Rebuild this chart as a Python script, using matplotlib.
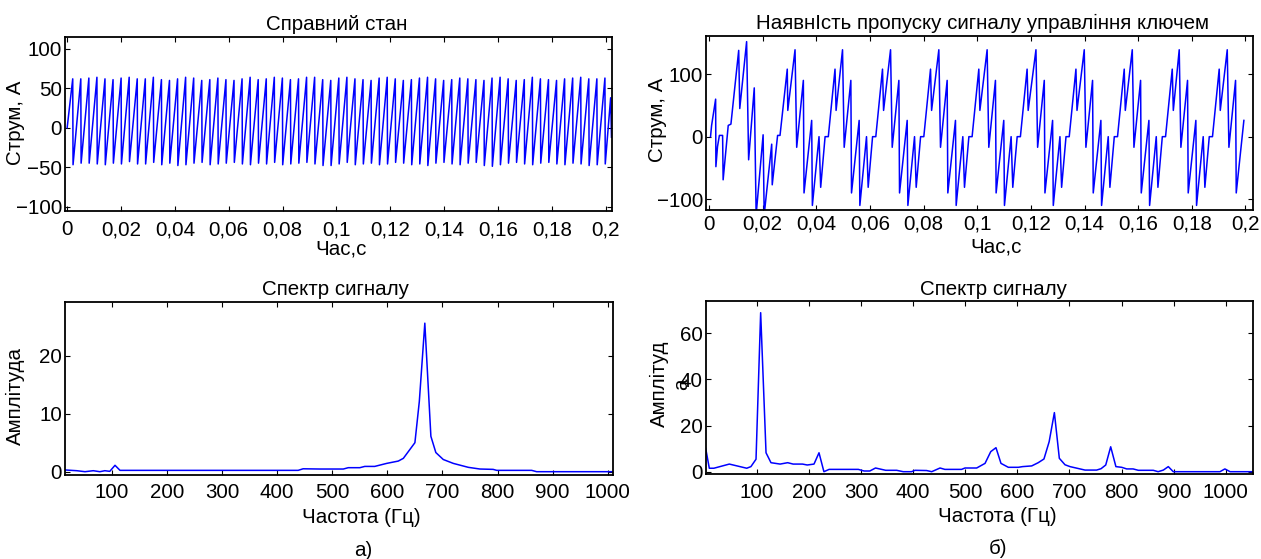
import numpy as np
import matplotlib
matplotlib.use("Agg")
import matplotlib.pyplot as plt

plt.rcParams['font.family'] = ['Liberation Sans', 'DejaVu Sans']

# ---------------- data ----------------
# healthy state: rising sawtooth, one peak/trough pair per cycle
healthy_first_peak = 0.00207   # s
healthy_period = 0.002994      # s
healthy_peaks = [62, 62, 63, 64, 62, 61, 63, 64, 62, 62,
                 64, 61, 60, 62, 64, 63, 60, 61, 63, 61,
                 60, 62, 64, 61, 62, 64, 63, 61, 62, 64,
                 64, 61, 60, 63, 64, 62, 61, 60, 63, 64,
                 62, 60, 61, 63, 64, 62, 60, 61, 63, 62,
                 61, 60, 63, 64, 62, 60, 61, 64, 62, 61,
                 60, 62, 63, 64, 62, 62, 63]
healthy_troughs = [-47, -45, -45, -46, -47, -45, -46, -43, -46, -46,
                   -44, -47, -45, -48, -47, -45, -44, -47, -46, -45,
                   -44, -46, -47, -45, -46, -44, -47, -46, -45, -44,
                   -46, -48, -48, -46, -44, -47, -46, -45, -47, -46,
                   -44, -45, -47, -46, -48, -45, -44, -46, -47, -45,
                   -44, -48, -49, -47, -45, -44, -46, -47, -45, -44,
                   -46, -47, -45, -46, -48, -47, -46]
healthy_tail_t = [0.2018, 0.2021]
healthy_tail_v = [38, -12]

# fault state: start-up transient, then a repeating cycle
fault_head_t = [0.0006, 0.0010, 0.0025, 0.0026, 0.0032, 0.0039, 0.0051, 0.0053,
                0.0072, 0.0082, 0.0111, 0.0115, 0.01405, 0.0148, 0.0169, 0.0176,
                0.0202, 0.0206, 0.0234, 0.0236, 0.0256, 0.0265, 0.0292, 0.0294]
fault_head_v = [0, 18, 60, -48, -16, 2, 2, -69,
                18, 20, 138, 45, 152, -37, 78, -125,
                3, -125, -12, -77, 2, 2, 108, 42]
fault_peak_t = [0.0321, 0.0498, 0.0677, 0.0857, 0.1037, 0.1219,
                0.1399, 0.1578, 0.1753, 0.1932]
fault_cycle_dt = [0.0, 0.00062, 0.0031, 0.00335, 0.0062, 0.00646,
                  0.00894, 0.00956, 0.0112, 0.0124, 0.0149, 0.0153]
fault_cycle_v = [139, -17, 90, -90, 26, -110, 0, -81, 0, 0, 108, 42]
fault_end_t = 0.1995

# spectra
spec_a_f = [14.7, 36, 51, 66, 78, 87, 96, 105.5, 114.6, 438, 447, 477.5, 520, 529,
            550, 559, 577, 598.7, 619.8, 629, 650, 658, 668, 679, 688, 701.5,
            719.7, 747, 768, 792, 798.5, 862, 871, 1010]
spec_a_v = [0.3, 0.17, 0.0, 0.17, 0.0, 0.17, 0.06, 1.1, 0.23, 0.23, 0.5, 0.46, 0.46, 0.69,
            0.69, 0.91, 0.91, 1.43, 1.83, 2.3, 5.0, 12.1, 25.6, 6.1, 3.3, 2.1,
            1.43, 0.75, 0.46, 0.4, 0.23, 0.23, 0.0, 0.0]

spec_b_f = [2.3, 9.2, 18, 47.6, 81, 89, 98.8, 107.7, 118, 127.5, 145, 159.5, 170,
            188, 197, 210, 219.6, 229, 239, 295, 306, 317, 328, 347.5, 368.6, 381,
            397, 403.7, 426, 435.7, 451.7, 461, 493, 499.6, 522, 538, 549, 559,
            568.6, 582.7, 601.8, 610, 627.5, 640, 651, 661, 671, 680.5, 691.4, 701,
            729.8, 752, 760.5, 769.5, 779, 789, 800, 809.7, 822, 832, 860.7, 870,
            880, 889.5, 899, 988.6, 998, 1008, 1052.5]
spec_b_v = [10.1, 1.5, 1.5, 3.3, 1.5, 2.2, 5.4, 68.9, 8.2, 3.9, 3.3, 3.9, 3.3,
            3.3, 2.9, 3.3, 8.2, 0.0, 1.0, 1.0, 0.3, 0.3, 1.6, 0.6, 0.6, 0.0,
            0.0, 0.6, 0.5, 0.0, 1.6, 1.0, 1.0, 1.6, 1.6, 3.6, 8.7, 10.4,
            3.6, 1.9, 1.9, 2.2, 2.5, 3.9, 5.5, 13.0, 25.6, 5.8, 3.0, 2.2,
            0.7, 0.7, 1.3, 2.9, 10.8, 2.2, 1.9, 1.2, 1.2, 0.6, 0.6, 0.0,
            0.7, 2.2, 0.0, 0.0, 1.2, 0.0, 0.0]

time_ticks = [0, 0.02, 0.04, 0.06, 0.08, 0.1, 0.12, 0.14, 0.16, 0.18, 0.2]
time_ticklabels = ['0', '0,02', '0,04', '0,06', '0,08', '0,1', '0,12', '0,14',
                   '0,16', '0,18', '0,2']
freq_ticks = [100, 200, 300, 400, 500, 600, 700, 800, 900, 1000]

# ---------------- build traces ----------------
ht, hv = [0.0], [0.0]
for k, (p, tr) in enumerate(zip(healthy_peaks, healthy_troughs)):
    tp = healthy_first_peak + k * healthy_period
    ht += [tp, tp + 0.00012]
    hv += [p, tr]
ht += healthy_tail_t
hv += healthy_tail_v

ft, fv = list(fault_head_t), list(fault_head_v)
for tp in fault_peak_t:
    for dt, v in zip(fault_cycle_dt, fault_cycle_v):
        if tp + dt <= fault_end_t:
            ft.append(tp + dt)
            fv.append(v)

# ---------------- figure ----------------
W, H = 1261, 559
fig = plt.figure(figsize=(W / 100, H / 100), dpi=100)


def rect(x0, y0, x1, y1):
    return [x0 / W, 1 - y1 / H, (x1 - x0) / W, (y1 - y0) / H]


BLUE = '#0000ff'
FS = 14.8


def style(ax, xpad):
    ax.tick_params(direction='in', top=True, right=True, length=3.6, width=0.8,
                   labelsize=FS, colors='black')
    ax.tick_params(axis='x', pad=xpad)
    ax.tick_params(axis='y', pad=2)
    for s in ax.spines.values():
        s.set_linewidth(1.3)


# a) top
ax1 = fig.add_axes(rect(65, 37, 612, 211))
ax1.plot(ht, hv, color=BLUE, lw=1.1)
ax1.set_xlim(-0.0008, 0.2023)
ax1.set_ylim(-105.7, 115.1)
ax1.set_xticks(time_ticks)
ax1.set_xticklabels(time_ticklabels)
ax1.set_yticks([-100, -50, 0, 50, 100])
style(ax1, 6.8)
ax1.text(0.4963, 1.040, 'Справний стан', transform=ax1.transAxes,
         ha='center', va='baseline', fontsize=FS)
ax1.set_xlabel('Час,с', fontsize=FS)
ax1.xaxis.set_label_coords(0.5046, -0.162)
ax1.set_ylabel('Струм, А', fontsize=FS)
ax1.yaxis.set_label_coords(-0.0731, 0.509)

# б) top
ax2 = fig.add_axes(rect(705.7, 36, 1253, 210))
ax2.plot(ft, fv, color=BLUE, lw=1.1)
ax2.set_xlim(-0.0012, 0.2028)
ax2.set_ylim(-117.3, 161)
ax2.set_xticks(time_ticks)
ax2.set_xticklabels(time_ticklabels)
ax2.set_yticks([-100, 0, 100])
style(ax2, 3.5)
ax2.text(0.505, 1.0385, 'НаявнІсть пропуску сигналу управління ключем',
         transform=ax2.transAxes, ha='center', va='baseline', fontsize=FS)
ax2.set_xlabel('Час,с', fontsize=FS)
ax2.xaxis.set_label_coords(0.530, -0.160)
ax2.set_ylabel('Струм, А', fontsize=FS)
ax2.yaxis.set_label_coords(-0.0713, 0.517)

# a) bottom
ax3 = fig.add_axes(rect(65, 301.7, 613.3, 475))
ax3.plot(spec_a_f, spec_a_v, color=BLUE, lw=1.1)
ax3.set_xlim(14.7, 1010.2)
ax3.set_ylim(-0.57, 29.3)
ax3.set_xticks(freq_ticks)
ax3.set_yticks([0, 10, 20])
style(ax3, 5.5)
ax3.text(0.494, 1.0387, 'Спектр сигналу', transform=ax3.transAxes,
         ha='center', va='baseline', fontsize=FS)
ax3.set_xlabel('Частота (Гц)', fontsize=FS)
ax3.xaxis.set_label_coords(0.540, -0.193)
ax3.set_ylabel('Амплітуда', fontsize=FS)
ax3.yaxis.set_label_coords(-0.073, 0.456)

# б) bottom
ax4 = fig.add_axes(rect(705.7, 300.7, 1253.3, 474))
ax4.plot(spec_b_f, spec_b_v, color=BLUE, lw=1.1)
ax4.set_xlim(2.3, 1052.5)
ax4.set_ylim(-1.0, 74.1)
ax4.set_xticks(freq_ticks)
ax4.set_yticks([0, 20, 40, 60])
style(ax4, 6.2)
ax4.text(0.5247, 1.033, 'Спектр сигналу', transform=ax4.transAxes,
         ha='center', va='baseline', fontsize=FS)
ax4.set_xlabel('Частота (Гц)', fontsize=FS)
ax4.xaxis.set_label_coords(0.533, -0.193)
ax4.set_ylabel('Амплітуд\nа', fontsize=FS)
ax4.yaxis.label.set_multialignment('center')
ax4.yaxis.set_label_coords(-0.0274, 0.519)

fig.text(363 / W, 1 - 550 / H, 'а)', ha='center', va='center', fontsize=FS)
fig.text(998 / W, 1 - 549 / H, 'б)', ha='center', va='center', fontsize=FS)

fig.savefig('out.png', dpi=100)
